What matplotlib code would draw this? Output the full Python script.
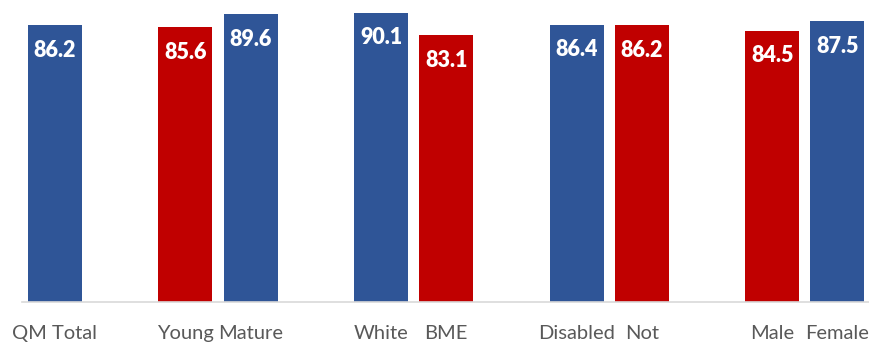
import numpy as np
import matplotlib.pyplot as plt

# chart data
labels = ['QM Total', 'Young', 'Mature', 'White', 'BME', 'Disabled', 'Not', 'Male', 'Female']
values = [86.2, 85.6, 89.6, 90.1, 83.1, 86.4, 86.2, 84.5, 87.5]
slots = [0, 2, 3, 5, 6, 8, 9, 11, 12]
is_red = [False, True, False, False, True, False, True, True, False]

blue = '#2F5597'
red = '#C00000'
colors = [red if r else blue for r in is_red]

fig = plt.figure(figsize=(8.7, 3.42), dpi=100)
ax = fig.add_axes([22.4 / 870, 40.3 / 342, 1 - 22.4 / 870, 301.7 / 342])

bars = ax.bar(slots, values, width=0.83, color=colors, zorder=2)

for b, v in zip(bars, values):
    ax.annotate(f'{v:.1f}', xy=(b.get_x() + b.get_width() / 2, v),
                xytext=(0, -25), textcoords='offset pixels',
                ha='center', va='center', color='white',
                fontsize=15.5, fontweight='heavy', family='Lato')

ax.set_xlim(-0.5, 12.5)
ax.set_ylim(0, 94.1)
ax.set_xticks(slots)
ax.set_xticklabels(labels, fontsize=14.5, color='#595959', family='Lato')
ax.tick_params(axis='x', length=0, pad=16.5)
ax.set_yticks([])
for s in ['top', 'right', 'left']:
    ax.spines[s].set_visible(False)
ax.spines['bottom'].set_color('#D9D9D9')
ax.spines['bottom'].set_linewidth(1.2)
ax.spines['bottom'].set_zorder(3)

fig.savefig('out.png', dpi=100)
